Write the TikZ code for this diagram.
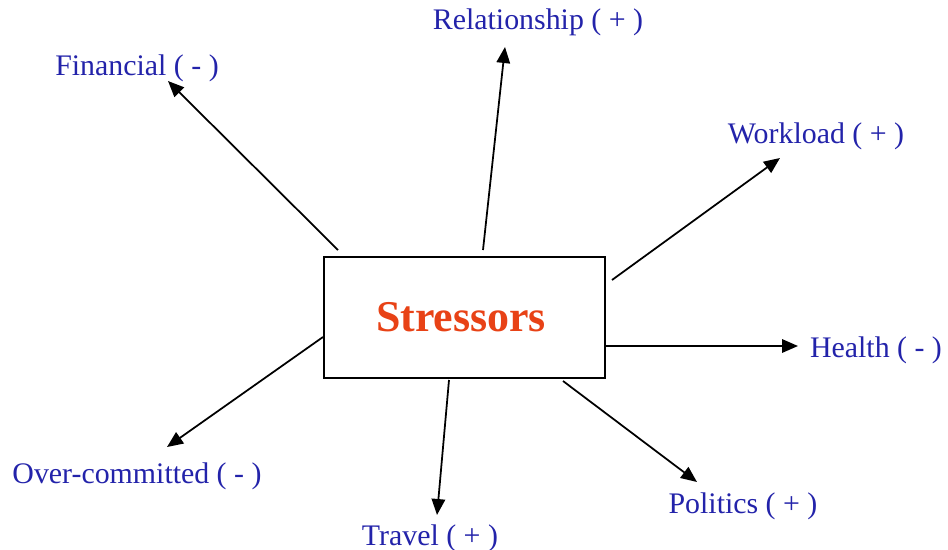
\documentclass[tikz,border=0pt]{standalone}
\usepackage{fontspec}
\setmainfont{Liberation Serif}
\usetikzlibrary{arrows.meta}
\definecolor{labelblue}{RGB}{35,35,170}
\definecolor{stressred}{RGB}{232,66,22}

\begin{document}
\begin{tikzpicture}[x=0.02cm,y=-0.02cm,
  arr/.style={line width=1pt,-{Triangle[length=0.32cm,width=0.27cm]}},
  lbl/.style={text=labelblue,font=\fontsize{17}{20}\selectfont,anchor=base,inner sep=0pt}]
\useasboundingbox (0,0) rectangle (948,549);

% centre box
\draw[line width=1.2pt] (324,257) rectangle (605,378);
\node[text=stressred,font=\fontsize{25}{30}\selectfont\bfseries] (stress) at (461,317) {Stressors};

% labels
\node[lbl] (fin) at (137,75) {Financial ( - )};
\node[lbl] (rel) at (538,29) {Relationship ( + )};
\node[lbl] (work) at (816,143) {Workload ( + )};
\node[lbl] (health) at (876,357) {Health ( - )};
\node[lbl] (pol) at (743,513) {Politics ( + )};
\node[lbl] (trav) at (430,545) {Travel ( + )};
\node[lbl] (over) at (137,483) {Over-committed ( - )};

% arrow ends
\coordinate (fin-s) at (338,250);   \coordinate (fin-t) at (168,81);
\coordinate (rel-s) at (483,250);   \coordinate (rel-t) at (505,47);
\coordinate (work-s) at (612,280);  \coordinate (work-t) at (780,158);
\coordinate (health-s) at (605,346);\coordinate (health-t) at (798,346);
\coordinate (pol-s) at (563,381);   \coordinate (pol-t) at (697,482);
\coordinate (trav-s) at (449,380);  \coordinate (trav-t) at (437,515);
\coordinate (over-s) at (323,337);  \coordinate (over-t) at (167,447);

\draw[arr] (fin-s) -- (fin-t);
\draw[arr] (rel-s) -- (rel-t);
\draw[arr] (work-s) -- (work-t);
\draw[arr] (health-s) -- (health-t);
\draw[arr] (pol-s) -- (pol-t);
\draw[arr] (trav-s) -- (trav-t);
\draw[arr] (over-s) -- (over-t);
\end{tikzpicture}
\end{document}
